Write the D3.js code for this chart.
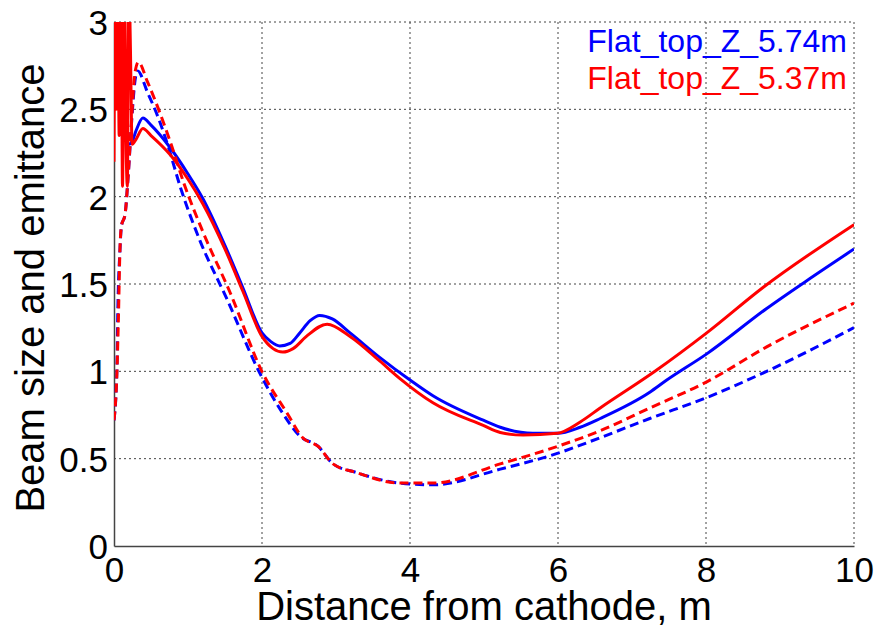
<!DOCTYPE html>
<meta charset="utf-8">
<style>
  body { margin: 0; background: #fff; }
  text { font-family: Arial, "Liberation Sans", sans-serif; }
</style>
<svg width="879" height="628"></svg>
<script src="https://d3js.org/d3.v7.min.js"></script>
<script>

  // beam size (solid) and emittance (dashed) vs distance from cathode
  var blueSolid = [[0,2.74],[0.03,2.74],[0.05,2.6],[0.1,2.45],[0.15,2.35],[0.2,2.3],[0.25,2.32],[0.3,2.38],[0.39,2.45],
      [0.5,2.41],[0.76,2.28],[1.0,2.13],[1.2,1.99],[1.5,1.72],[1.74,1.48],[2.0,1.22],[2.12,1.17],[2.24,1.145],
      [2.38,1.16],[2.51,1.22],[2.65,1.29],[2.78,1.32],[2.95,1.3],[3.19,1.22],[3.59,1.08],[4.0,0.95],[4.31,0.86],
      [4.99,0.72],[5.22,0.68],[5.66,0.645],[5.99,0.645],[6.3,0.68],[6.57,0.73],[7.24,0.88],[7.47,0.95],
      [8.01,1.1],[8.82,1.36],[9.4,1.53],[10,1.7]];

  var redSolid = [[0,2.2],[0.015,3.3],[0.03,2.5],[0.05,3.3],[0.07,2.35],[0.095,3.3],[0.115,2.06],[0.14,3.3],
      [0.16,2.4],[0.18,2.06],[0.2,3.3],[0.22,2.9],[0.245,2.3],[0.3,2.33],[0.39,2.39],
      [0.5,2.35],[0.76,2.24],[1.0,2.1],[1.2,1.96],[1.5,1.7],[1.74,1.46],[2.0,1.2],[2.15,1.13],[2.28,1.11],
      [2.42,1.13],[2.6,1.2],[2.88,1.27],[3.19,1.2],[3.59,1.06],[3.86,0.96],[4.31,0.82],[4.99,0.69],[5.22,0.65],
      [5.53,0.635],[5.99,0.645],[6.3,0.71],[6.57,0.79],[7.31,1.0],[8.01,1.22],[8.77,1.48],[10,1.84]];

  var blueDashed = [[0,0.72],[0.04,1.02],[0.05,1.31],[0.08,1.69],[0.1,1.83],[0.15,1.9],[0.19,2.11],[0.24,2.44],
      [0.28,2.65],[0.32,2.72],[0.45,2.6],[0.6,2.45],[0.73,2.29],[0.9,2.05],[1.16,1.75],[1.53,1.41],[1.97,0.99],
      [2.28,0.76],[2.51,0.63],[2.76,0.57],[2.96,0.47],[3.28,0.42],[3.86,0.36],[4.31,0.35],[5.22,0.44],
      [5.99,0.53],[6.57,0.62],[7.24,0.73],[8.01,0.85],[8.82,1.0],[10,1.25]];

  var redDashed = [[0,0.72],[0.04,1.0],[0.06,1.31],[0.08,1.69],[0.1,1.83],[0.15,1.9],[0.19,2.11],[0.24,2.46],
      [0.28,2.7],[0.33,2.77],[0.45,2.66],[0.62,2.48],[0.78,2.29],[0.95,2.07],[1.2,1.8],[1.57,1.45],[2.01,0.99],
      [2.34,0.76],[2.55,0.62],[2.76,0.57],[2.96,0.47],[3.28,0.42],[3.86,0.36],[4.31,0.36],[5.22,0.47],
      [5.99,0.57],[6.57,0.66],[7.24,0.79],[8.01,0.94],[8.82,1.14],[10,1.39]];

  var xTicks = [0, 2, 4, 6, 8, 10],
      yTicks = [0, 0.5, 1, 1.5, 2, 2.5, 3],
      legendLabels = ["Flat_top_Z_5.74m", "Flat_top_Z_5.37m"],
      colors = ["#0000ff", "#ff0000"];

  var svg = d3.select("svg"),
      pL = 114, pR = 854, pT = 22, pB = 546;

  var x = d3.scaleLinear().domain([0, 10]).range([pL, pR]),
      y = d3.scaleLinear().domain([0, 3]).range([pB, pT]);

  svg.append("defs").append("clipPath").attr("id", "clip")
    .append("rect").attr("x", pL).attr("y", pT).attr("width", pR - pL).attr("height", pB - pT);

  // dotted grid (also forms the top and right edges)
  var grid = svg.append("g").attr("stroke", "#444").attr("stroke-width", 1).attr("stroke-dasharray", "2,3");
  grid.selectAll(".gx").data(xTicks.slice(1)).enter().append("line")
      .attr("x1", function(d) { return x(d); }).attr("x2", function(d) { return x(d); })
      .attr("y1", pT).attr("y2", pB);
  grid.selectAll(".gy").data(yTicks.slice(1)).enter().append("line")
      .attr("y1", function(d) { return y(d); }).attr("y2", function(d) { return y(d); })
      .attr("x1", pL).attr("x2", pR);

  // solid left and bottom axes
  var xAxis = svg.append("g").attr("transform", "translate(0," + pB + ")")
      .call(d3.axisBottom(x).tickValues(xTicks).tickSize(0).tickPadding(11).tickFormat(d3.format("d")));
  var yAxis = svg.append("g").attr("transform", "translate(" + pL + ",0)")
      .call(d3.axisLeft(y).tickValues(yTicks).tickSize(0).tickPadding(6).tickFormat(function(d) { return String(d); }));

  [xAxis, yAxis].forEach(function(a) {
    a.select(".domain").attr("stroke", "#444").attr("stroke-width", 1.5);
    a.selectAll("text").attr("font-size", 35).attr("fill", "#000")
        .attr("font-family", "Arial, 'Liberation Sans', sans-serif");
  });
  xAxis.selectAll("text").attr("dy", "0.71em");
  yAxis.selectAll("text").attr("dy", "0.36em");

  var line = d3.line()
      .curve(d3.curveMonotoneX)
      .x(function(d) { return x(d[0]); })
      .y(function(d) { return y(d[1]); });

  var series = [
    {data: blueSolid, color: colors[0], dash: null},
    {data: blueDashed, color: colors[0], dash: "9,5"},
    {data: redSolid, color: colors[1], dash: null},
    {data: redDashed, color: colors[1], dash: "9,5"}
  ];

  svg.append("g").attr("clip-path", "url(#clip)")
    .selectAll("path").data(series).enter().append("path")
      .attr("d", function(d) { return line(d.data); })
      .attr("fill", "none")
      .attr("stroke", function(d) { return d.color; })
      .attr("stroke-width", 3)
      .attr("stroke-linejoin", "round")
      .attr("stroke-dasharray", function(d) { return d.dash; });

  // legend: coloured text only
  svg.append("g").selectAll("text").data(legendLabels).enter().append("text")
      .attr("x", 847)
      .attr("y", function(d, i) { return 52 + i * 37; })
      .attr("text-anchor", "end")
      .attr("font-size", 32)
      .attr("fill", function(d, i) { return colors[i]; })
      .text(function(d) { return d; });

  svg.append("text")
      .attr("x", (pL + pR) / 2).attr("y", 620)
      .attr("text-anchor", "middle").attr("font-size", 40)
      .text("Distance from cathode, m");

  svg.append("text")
      .attr("transform", "translate(44," + ((pT + pB) / 2 + 4) + ") rotate(-90)")
      .attr("text-anchor", "middle").attr("font-size", 40)
      .text("Beam size and emittance");

</script>
